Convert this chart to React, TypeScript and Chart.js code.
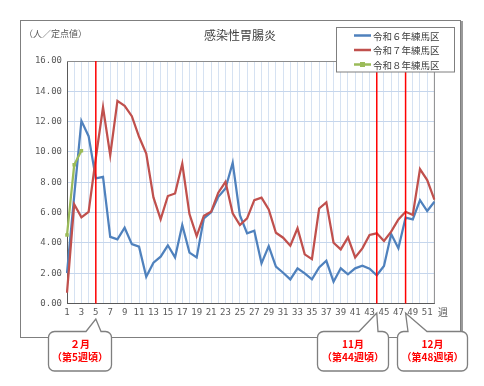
import React, { useEffect, useRef } from 'react';
import { Chart, registerables } from 'chart.js';

Chart.register(...registerables);

const W = 484;
const H = 386;

const weeks = [
  '1', '2', '3', '4', '5', '6', '7', '8', '9', '10', '11', '12', '13', '14', '15', '16', '17', '18', '19', '20',
  '21', '22', '23', '24', '25', '26', '27', '28', '29', '30', '31', '32', '33', '34', '35', '36', '37', '38', '39', '40',
  '41', '42', '43', '44', '45', '46', '47', '48', '49', '50', '51', '52',
];

const r6 = [
  2.0, 7.1, 12.05, 11.04, 8.25, 8.36, 4.4, 4.23, 5.0, 3.92, 3.75, 1.77, 2.69, 3.09, 3.84, 3.04, 5.18, 3.36, 3.04, 5.62,
  6.01, 7.04, 7.59, 9.29, 5.83, 4.63, 4.8, 2.65, 3.79, 2.43, 2.03, 1.59, 2.32, 1.99, 1.59, 2.38, 2.82, 1.44, 2.32, 1.92,
  2.32, 2.49, 2.3, 1.86, 2.47, 4.58, 3.64, 5.66, 5.55, 6.82, 6.1, 6.71,
];

const r7 = [
  0.71, 6.55, 5.68, 6.05, 9.6, 12.95, 9.79, 13.37, 13.04, 12.36, 11.0, 9.9, 7.0, 5.55, 7.09, 7.26, 9.22, 5.9, 4.45, 5.79,
  6.05, 7.31, 8.03, 5.95, 5.18, 5.62, 6.82, 6.98, 6.21, 4.67, 4.34, 3.81, 4.96, 3.24, 2.93, 6.27, 6.67, 4.01, 3.57, 4.36,
  3.04, 3.64, 4.52, 4.63, 4.12, 4.74, 5.55, 6.05, 5.84, 8.87, 8.14, 6.85,
];

const r8: (number | null)[] = [4.52, 9.15, 10.08];

const seriesNames = ['令和６年練馬区', '令和７年練馬区', '令和８年練馬区'];
const seriesColors = ['#4F81BD', '#C0504D', '#9BBB59'];

const markerWeeks = ['5', '44', '48'];
const calloutLines = [
  ['２月', '（第5週頃）'],
  ['11月', '（第44週頃）'],
  ['12月', '（第48週頃）'],
];

const chartTitle = '感染性胃腸炎';
const yUnit = '（人／定点値）';
const xUnit = '週';

const JP = '"Noto Sans CJK JP", "Noto Sans", sans-serif';
const MONO = '"DejaVu Sans Mono", monospace';

function roundRectPath(ctx: CanvasRenderingContext2D, x: number, y: number, w: number, h: number, r: number, tip: { x: number; y: number }, bl: number, br: number) {
  ctx.beginPath();
  ctx.moveTo(x + r, y);
  ctx.lineTo(bl, y);
  ctx.lineTo(tip.x, tip.y);
  ctx.lineTo(br, y);
  ctx.lineTo(x + w - r, y);
  ctx.arcTo(x + w, y, x + w, y + r, r);
  ctx.lineTo(x + w, y + h - r);
  ctx.arcTo(x + w, y + h, x + w - r, y + h, r);
  ctx.lineTo(x + r, y + h);
  ctx.arcTo(x, y + h, x, y + h - r, r);
  ctx.lineTo(x, y + r);
  ctx.arcTo(x, y, x + r, y, r);
  ctx.closePath();
}

const decorPlugin = {
  id: 'decor',
  beforeDraw(chart: any) {
    const ctx: CanvasRenderingContext2D = chart.ctx;
    ctx.save();
    ctx.fillStyle = '#ffffff';
    ctx.fillRect(0, 0, W, H);
    // outer frame
    ctx.strokeStyle = '#7f7f7f';
    ctx.lineWidth = 1;
    ctx.strokeRect(20.5, 20.5, 440, 317);
    ctx.fillStyle = '#9a9a9a';
    ctx.fillRect(461, 21, 2, 317);
    ctx.restore();
  },
  beforeDatasetsDraw(chart: any) {
    const ctx: CanvasRenderingContext2D = chart.ctx;
    const a = chart.chartArea;
    ctx.save();
    ctx.strokeStyle = '#8c8c8c';
    ctx.lineWidth = 1;
    ctx.beginPath();
    ctx.moveTo(a.left, Math.round(a.top) + 0.5);
    ctx.lineTo(a.right, Math.round(a.top) + 0.5);
    ctx.lineTo(a.right, a.bottom);
    ctx.stroke();
    ctx.restore();
  },
  afterDatasetsDraw(chart: any) {
    const ctx: CanvasRenderingContext2D = chart.ctx;
    const a = chart.chartArea;
    const xs = chart.scales.x;
    ctx.save();
    ctx.strokeStyle = '#FF0000';
    ctx.lineWidth = 1.5;
    markerWeeks.forEach((wk) => {
      const px = xs.getPixelForValue(weeks.indexOf(wk));
      ctx.beginPath();
      ctx.moveTo(px, a.top);
      ctx.lineTo(px, a.bottom);
      ctx.stroke();
    });
    ctx.restore();
  },
  afterDraw(chart: any) {
    const ctx: CanvasRenderingContext2D = chart.ctx;
    const xs = chart.scales.x;
    ctx.save();
    // title
    ctx.fillStyle = '#404040';
    ctx.font = `12px ${JP}`;
    ctx.textAlign = 'center';
    ctx.textBaseline = 'middle';
    ctx.fillText(chartTitle, 240, 35);
    // y unit
    ctx.fillStyle = '#595959';
    ctx.font = `9px ${JP}`;
    ctx.textAlign = 'left';
    ctx.fillText(yUnit, 24, 34);
    // x unit
    ctx.font = `10px ${JP}`;
    ctx.textAlign = 'center';
    ctx.fillText(xUnit, 443, 312);

    // legend
    ctx.fillStyle = '#ffffff';
    ctx.fillRect(336.5, 27.5, 118, 44.5);
    ctx.strokeStyle = '#7f7f7f';
    ctx.lineWidth = 1;
    ctx.strokeRect(336.5, 27.5, 118, 44.5);
    const rows = [35.5, 50, 64.5];
    seriesNames.forEach((name, i) => {
      const y = rows[i];
      ctx.strokeStyle = seriesColors[i];
      ctx.lineWidth = 2.5;
      ctx.beginPath();
      ctx.moveTo(354, y);
      ctx.lineTo(371, y);
      ctx.stroke();
      if (i === 2) {
        ctx.fillStyle = seriesColors[i];
        ctx.fillRect(360, y - 2.5, 5, 5);
      }
      ctx.fillStyle = '#404040';
      ctx.font = `9.5px ${JP}`;
      ctx.textAlign = 'left';
      ctx.textBaseline = 'middle';
      ctx.fillText(name, 373, y + 0.5);
    });

    // callouts
    const boxes = [
      { x: 48.5, w: 63, bl: 86, br: 101, ty: 319 },
      { x: 317.5, w: 71, bl: 359, br: 378, ty: 313 },
      { x: 397.5, w: 70, bl: 408, br: 427, ty: 313 },
    ];
    boxes.forEach((b, i) => {
      const tipX = xs.getPixelForValue(weeks.indexOf(markerWeeks[i]));
      const by = 331.5;
      const bh = 39.5;
      roundRectPath(ctx, b.x, by, b.w, bh, 6, { x: tipX, y: b.ty }, b.bl, b.br);
      ctx.fillStyle = '#ffffff';
      ctx.fill();
      ctx.strokeStyle = '#7f7f7f';
      ctx.lineWidth = 1.3;
      ctx.stroke();
      ctx.fillStyle = '#FF0000';
      ctx.font = `bold 10px ${JP}`;
      ctx.textAlign = 'center';
      ctx.textBaseline = 'middle';
      const cx = b.x + b.w / 2;
      ctx.fillText(calloutLines[i][0], cx, 344);
      ctx.fillText(calloutLines[i][1], cx, 357.5);
    });
    ctx.restore();
  },
};

export default function App() {
  const ref = useRef<HTMLCanvasElement | null>(null);
  useEffect(() => {
    if (!ref.current) return;
    const chart = new Chart(ref.current, {
      type: 'line',
      data: {
        labels: weeks,
        datasets: [
          {
            label: seriesNames[0],
            data: r6,
            borderColor: seriesColors[0],
            backgroundColor: seriesColors[0],
            borderWidth: 2.25,
            pointRadius: 0,
            tension: 0,
            order: 2,
          },
          {
            label: seriesNames[1],
            data: r7,
            borderColor: seriesColors[1],
            backgroundColor: seriesColors[1],
            borderWidth: 2.25,
            pointRadius: 0,
            tension: 0,
            order: 1,
          },
          {
            label: seriesNames[2],
            data: r8,
            borderColor: seriesColors[2],
            backgroundColor: seriesColors[2],
            borderWidth: 2.25,
            pointStyle: 'rect',
            pointRadius: 2.5,
            pointBorderWidth: 0,
            tension: 0,
            order: 0,
          },
        ],
      },
      options: {
        responsive: false,
        animation: false,
        devicePixelRatio: 1,
        layout: { padding: { left: 20, top: 61, right: 49.6, bottom: 62.5 } },
        plugins: {
          legend: { display: false },
          title: { display: false },
          tooltip: { enabled: false },
        },
        scales: {
          x: {
            type: 'category',
            offset: false,
            afterFit: (s: any) => { s.height = 20; },
            grid: { color: 'rgba(200,216,238,0.75)', lineWidth: 1, drawTicks: false },
            border: { color: '#595959', width: 1 },
            ticks: {
              autoSkip: false,
              maxRotation: 0,
              minRotation: 0,
              padding: 4,
              color: '#595959',
              font: { family: MONO, size: 9 },
              callback: (_v: any, i: number) => (i % 2 === 0 ? weeks[i] : ''),
            },
          },
          y: {
            min: 0,
            max: 16,
            afterFit: (s: any) => { s.width = 47; },
            grid: { color: '#c6d6ec', lineWidth: 1, drawTicks: false },
            border: { color: '#595959', width: 1 },
            ticks: {
              stepSize: 2,
              padding: 5,
              color: '#595959',
              font: { family: MONO, size: 9 },
              callback: (v: any) => Number(v).toFixed(2),
            },
          },
        },
      },
      plugins: [decorPlugin],
    } as any);
    return () => chart.destroy();
  }, []);
  return (
    <div style={{ position: 'fixed', left: 0, top: 0, width: W, height: H, background: '#fff' }}>
      <canvas ref={ref} width={W} height={H} style={{ width: W, height: H, display: 'block' }} />
    </div>
  );
}
